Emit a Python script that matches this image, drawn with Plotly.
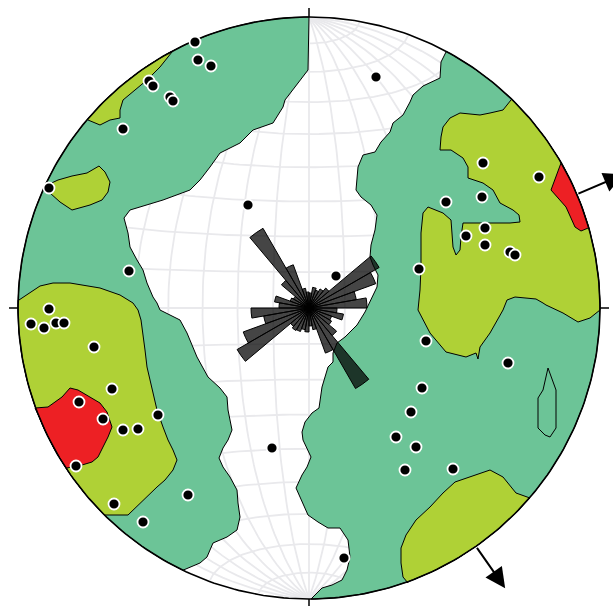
import math
import plotly.graph_objects as go

# ---------------- data (net drawing units: x right, y down, net centre/radius below) ----------------
CX, CY, R = 309.0, 308.0, 291.0

POINT_X = [195, 198, 211, 149, 153, 170, 173, 123, 49, 248, 129, 49, 31, 44, 56, 64, 94, 112, 79, 103,
           158, 123, 138, 76, 272, 188, 114, 143, 376, 483, 539, 446, 482, 485, 466, 485, 510, 515, 419,
           336, 426, 508, 422, 411, 396, 416, 405, 453, 344]
POINT_Y = [42, 60, 66, 81, 86, 97, 101, 129, 188, 205, 271, 309, 324, 328, 323, 323, 347, 389, 402, 419,
           415, 430, 429, 466, 448, 495, 504, 522, 77, 163, 177, 202, 197, 228, 236, 245, 252, 255, 269,
           276, 341, 363, 388, 412, 437, 447, 470, 469, 558]

ROSE_AZ = [5, 15, 25, 35, 45, 55, 65, 75, 85, 95, 105, 115, 125, 135, 145, 155, 165, 175,
           185, 195, 205, 215, 225, 235, 245, 255, 265, 275, 285, 295, 305, 315, 325, 335, 345, 355]
ROSE_LEN = [15, 21, 19, 22, 26, 81, 71, 48, 58, 28, 35, 24, 26, 36, 93, 48, 22, 18,
            24, 22, 25, 26, 24, 83, 70, 46, 58, 30, 35, 20, 18, 36, 92, 46, 20, 16]

ARROW_AZ = [67, 145]

GREEN_WEST = [(309, 17), (308, 70), (285, 100), (283, 107), (273, 123), (253, 130), (240, 143), (220, 153),
              (210, 167), (200, 180), (190, 190), (163, 200), (130, 210), (124, 218), (128, 233), (130, 247),
              (137, 260), (143, 270), (147, 283), (153, 297), (157, 303), (160, 310), (180, 320), (187, 333),
              (197, 357), (208, 377), (220, 388), (227, 397), (228, 410), (230, 420), (232, 430), (228, 440),
              (223, 448), (219, 458), (223, 467), (230, 477), (237, 490), (238, 503), (240, 517), (237, 530),
              (227, 537), (213, 543), (207, 557), (200, 563), (183, 570)]
GREEN_EAST = [(446, 52), (441, 62), (440, 78), (423, 86), (413, 95), (410, 102), (403, 115), (393, 123),
              (390, 132), (381, 142), (375, 152), (363, 155), (358, 167), (356, 190), (361, 197), (371, 205),
              (377, 215), (375, 230), (371, 245), (370, 257), (373, 265), (378, 275), (377, 287), (372, 297),
              (368, 305), (365, 312), (357, 325), (345, 337), (337, 343), (333, 353), (333, 362), (328, 367),
              (325, 377), (322, 387), (319, 408), (312, 413), (305, 422), (302, 432), (303, 440), (307, 448),
              (311, 457), (307, 467), (302, 475), (296, 488), (302, 502), (308, 515), (318, 522), (328, 528),
              (340, 528), (348, 540), (350, 557), (347, 570), (342, 580), (332, 585), (322, 588), (311, 599)]
YELLOW_NW = [(172, 52), (160, 67), (147, 80), (133, 92), (123, 100), (120, 110), (120, 118), (110, 120),
             (100, 125), (88, 120)]
YELLOW_W_ISLAND = [(45, 186), (58, 180), (72, 176), (87, 173), (99, 166), (105, 172), (110, 182), (108, 192),
                   (102, 200), (90, 205), (72, 210), (60, 202), (50, 193)]
YELLOW_SW = [(19, 300), (30, 293), (40, 286), (53, 283), (70, 283), (100, 288), (120, 295), (133, 303),
             (138, 310), (141, 320), (143, 333), (145, 350), (147, 367), (152, 387), (157, 410), (163, 427),
             (168, 440), (173, 450), (177, 460), (173, 470), (165, 480), (157, 487), (147, 497), (133, 510),
             (128, 515), (104, 515)]
RED_W = [(35, 408), (48, 407), (62, 397), (70, 388), (78, 390), (90, 397), (100, 403), (107, 412), (112, 427),
         (108, 437), (103, 447), (98, 457), (92, 462), (82, 465), (67, 468)]
YELLOW_E = [(511, 100), (503, 110), (490, 113), (480, 115), (460, 113), (450, 118), (443, 127), (441, 137),
            (440, 150), (451, 150), (463, 158), (468, 167), (468, 178), (483, 183), (493, 190), (500, 203),
            (513, 210), (519, 215), (520, 222), (510, 223), (463, 223), (461, 237), (460, 250), (456, 255),
            (453, 247), (451, 220), (443, 213), (428, 207), (423, 213), (421, 233), (421, 267), (420, 290),
            (418, 310), (430, 333), (446, 352), (466, 357), (476, 353), (478, 359), (480, 347), (490, 333),
            (503, 310), (507, 300), (515, 297), (530, 298), (536, 299), (543, 303), (546, 305), (563, 313),
            (578, 322), (590, 318), (600, 310)]
RED_E = [(561, 163), (551, 190), (566, 207), (575, 227), (581, 231), (588, 228)]
YELLOW_SE = [(530, 498), (516, 493), (503, 477), (490, 470), (455, 482), (443, 493), (430, 507), (416, 520),
             (406, 535), (401, 548), (401, 563), (403, 577), (408, 583)]
GREEN_ISLAND = [(548, 368), (556, 390), (556, 428), (550, 437), (545, 435), (538, 428), (538, 398), (543, 390)]

GREEN, YELLOW, RED = "#6cc497", "#afd136", "#ed2024"

# ---------------- helpers ----------------
def ang(p):
    return math.atan2(p[1] - CY, p[0] - CX)


def arc(p0, p1, sense):
    a0, a1 = ang(p0), ang(p1)
    if sense > 0:
        while a1 < a0:
            a1 += 2 * math.pi
    else:
        while a1 > a0:
            a1 -= 2 * math.pi
    k = max(2, int(abs(a1 - a0) / math.radians(1)))
    return [(CX + R * math.cos(a0 + (a1 - a0) * i / k), CY + R * math.sin(a0 + (a1 - a0) * i / k))
            for i in range(k + 1)]


def region(pts, sense=0):
    p = list(pts)
    if sense:
        p += arc(pts[-1], pts[0], sense)
    p.append(pts[0])
    return [q[0] for q in p], [q[1] for q in p]


def proj(x, y, z):
    s = math.sqrt(1 + z)
    return CX + R * x / s, CY - R * y / s


fig = go.Figure()

# ---------------- Schmidt net grid (10 degree) ----------------
gx, gy = [], []
for lon in range(10, 180, 10):
    L = math.radians(lon)
    for lat in range(-90, 91, 2):
        la = math.radians(lat)
        X, Y = proj(math.cos(la) * math.cos(L), math.sin(la), math.cos(la) * math.sin(L))
        gx.append(X); gy.append(Y)
    gx.append(None); gy.append(None)
for lat in range(-80, 90, 10):
    la = math.radians(lat)
    for lon in range(0, 181, 2):
        L = math.radians(lon)
        X, Y = proj(math.cos(la) * math.cos(L), math.sin(la), math.cos(la) * math.sin(L))
        gx.append(X); gy.append(Y)
    gx.append(None); gy.append(None)
fig.add_trace(go.Scatter(x=gx, y=gy, mode="lines", line=dict(color="#e9e9ec", width=1.8),
                         hoverinfo="skip"))

# ---------------- contour regions ----------------
for pts, sense, col in [(GREEN_WEST, 1, GREEN), (GREEN_EAST, -1, GREEN), (YELLOW_NW, 1, YELLOW),
                        (YELLOW_W_ISLAND, 0, YELLOW), (YELLOW_SW, 1, YELLOW), (RED_W, 1, RED),
                        (YELLOW_E, -1, YELLOW), (RED_E, -1, RED), (YELLOW_SE, -1, YELLOW),
                        (GREEN_ISLAND, 0, GREEN)]:
    xs, ys = region(pts, sense)
    fig.add_trace(go.Scatter(x=xs, y=ys, mode="lines", fill="toself", fillcolor=col,
                             line=dict(color="black", width=1), hoverinfo="skip"))

# primitive circle
cx_, cy_ = [], []
for i in range(361):
    a = math.radians(i)
    cx_.append(CX + R * math.cos(a)); cy_.append(CY + R * math.sin(a))
fig.add_trace(go.Scatter(x=cx_, y=cy_, mode="lines", line=dict(color="black", width=1.6), hoverinfo="skip"))

# poles
fig.add_trace(go.Scatter(x=POINT_X, y=POINT_Y, mode="markers",
                         marker=dict(size=11, color="black", line=dict(color="white", width=1.8))))

# ---------------- rose diagram ----------------
fig.add_trace(go.Barpolar(r=ROSE_LEN, theta=ROSE_AZ, width=[10] * len(ROSE_AZ),
                          marker=dict(color="rgba(0,0,0,0.73)", line=dict(color="black", width=1)),
                          subplot="polar"))

W, H = 613, 606
fig.update_layout(
    width=W, height=H, margin=dict(l=0, r=0, t=0, b=0),
    paper_bgcolor="white", plot_bgcolor="white", showlegend=False,
    xaxis=dict(range=[0, W], visible=False, fixedrange=True),
    yaxis=dict(range=[H, 0], visible=False, fixedrange=True),
    polar=dict(
        domain=dict(x=[(CX - R) / W, (CX + R) / W], y=[(H - CY - R) / H, (H - CY + R) / H]),
        bgcolor="rgba(0,0,0,0)",
        radialaxis=dict(range=[0, R], visible=False),
        angularaxis=dict(rotation=90, direction="clockwise", visible=False),
    ),
)

# ticks at N, E, S, W
for az in [0, 90, 180, 270]:
    a = math.radians(az)
    fig.add_shape(type="line", xref="x", yref="y",
                  x0=CX + R * math.sin(a), y0=CY - R * math.cos(a),
                  x1=CX + (R + 9) * math.sin(a), y1=CY - (R + 9) * math.cos(a),
                  line=dict(color="black", width=1.5))

# arrows
for az in ARROW_AZ:
    a = math.radians(az)
    fig.add_annotation(x=CX + (R + 51) * math.sin(a), y=CY - (R + 51) * math.cos(a),
                       ax=CX + R * math.sin(a), ay=CY - R * math.cos(a),
                       xref="x", yref="y", axref="x", ayref="y", text="", showarrow=True,
                       arrowhead=2, arrowsize=2, arrowwidth=2, arrowcolor="black")

fig.write_html("out.html", config={"displayModeBar": False},
               post_script="document.body.style.margin='0';document.body.style.overflow='hidden';")
